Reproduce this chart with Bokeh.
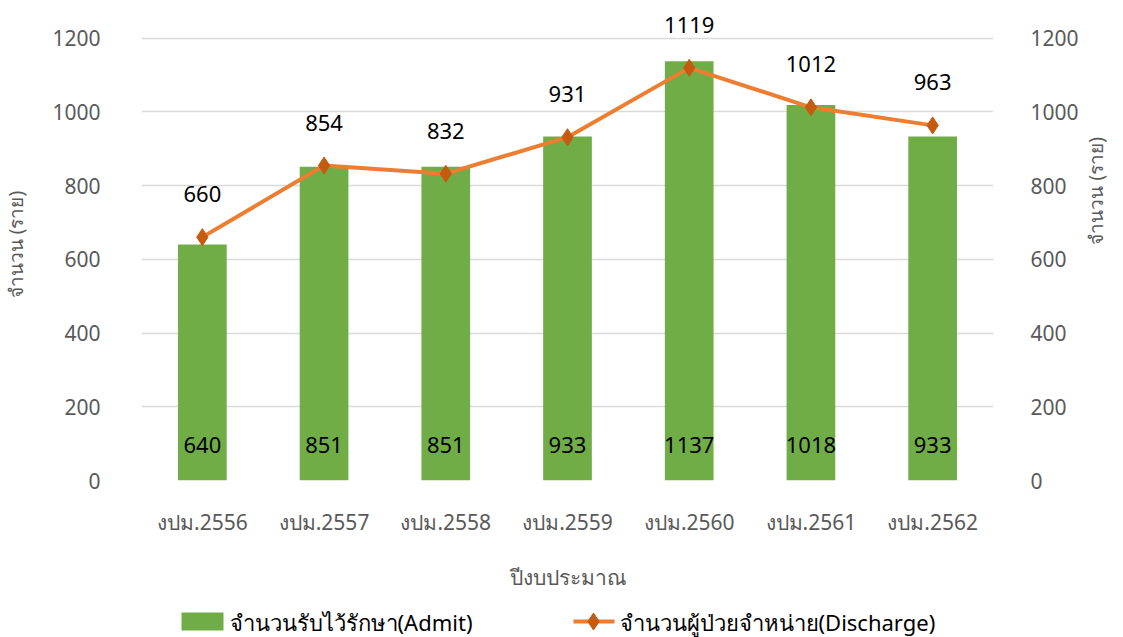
import math
from bokeh.plotting import figure
from bokeh.layouts import column
from bokeh.models import ColumnDataSource, Range1d, LinearAxis, FixedTicker
from bokeh.core.properties import value
from bokeh.embed import file_html
from bokeh.resources import INLINE

categories = ["งปม.2556", "งปม.2557", "งปม.2558", "งปม.2559", "งปม.2560", "งปม.2561", "งปม.2562"]
admit = [640, 851, 851, 933, 1137, 1018, 933]
discharge = [660, 854, 832, 931, 1119, 1012, 963]
y_ticks = [0, 200, 400, 600, 800, 1000, 1200]
legend_labels = ["จำนวนรับไว้รักษา(Admit)", "จำนวนผู้ป่วยจำหน่าย(Discharge)"]

FONT = "Noto Sans"
GREEN = "#70AD47"
ORANGE = "#ED7D31"
DARK_ORANGE = "#C55A11"
GRAY_TXT = "#595959"

LEFT, RIGHT, FW = 135, 118, 852
TOTAL_W = LEFT + FW + RIGHT

src = ColumnDataSource(dict(
    x=categories, admit=admit, discharge=discharge,
    admit_txt=[str(v) for v in admit], dis_txt=[str(v) for v in discharge],
    base=[95] * len(categories),
))

p = figure(frame_width=FW, frame_height=472, x_range=categories, y_range=Range1d(0, 1280),
           output_backend="svg", toolbar_location=None,
           min_border_left=LEFT, min_border_right=RIGHT, min_border_top=8, min_border_bottom=112)
p.extra_y_ranges = {"r": Range1d(0, 1280)}
p.outline_line_color = None
p.background_fill_color = "white"

bars = p.vbar(x="x", top="admit", width=0.4, source=src, fill_color=GREEN, line_color=None)
ln = p.line(x="x", y="discharge", source=src, line_color=ORANGE, line_width=4)
sc = p.scatter(x="x", y="discharge", source=src, marker="diamond", size=17,
               fill_color=DARK_ORANGE, line_color=DARK_ORANGE)

p.text(x="x", y="base", text="admit_txt", source=src, text_align="center", text_baseline="middle",
       text_font=value(FONT), text_font_size="22px", text_color="black")
p.text(x="x", y="discharge", text="dis_txt", source=src, text_align="center", text_baseline="middle",
       y_offset=-43, text_font=value(FONT), text_font_size="22px", text_color="black")

p.xgrid.grid_line_color = None
p.ygrid.grid_line_color = "#D9D9D9"
p.ygrid.grid_line_width = 1.3
p.yaxis.ticker = FixedTicker(ticks=y_ticks)

def style_y(ax, standoff, title_standoff):
    ax.axis_line_color = None
    ax.major_tick_line_color = None
    ax.minor_tick_line_color = None
    ax.major_label_text_font = FONT
    ax.major_label_text_font_size = "21px"
    ax.major_label_text_color = GRAY_TXT
    ax.major_label_standoff = standoff
    ax.axis_label_text_font = FONT
    ax.axis_label_text_font_size = "19px"
    ax.axis_label_text_font_style = "normal"
    ax.axis_label_text_color = GRAY_TXT
    ax.axis_label_standoff = title_standoff

style_y(p.yaxis[0], 35, 20)
p.yaxis[0].axis_label = "จำนวน (ราย)"

rax = LinearAxis(y_range_name="r", ticker=FixedTicker(ticks=y_ticks), axis_label="จำนวน (ราย)")
style_y(rax, 31, 14)
try:
    rax.axis_label_orientation = math.pi / 2
except Exception:
    pass
p.add_layout(rax, "right")

xa = p.xaxis[0]
xa.axis_line_color = None
xa.major_tick_line_color = None
xa.minor_tick_line_color = None
xa.major_label_text_font = FONT
xa.major_label_text_font_size = "21px"
xa.major_label_text_color = GRAY_TXT
xa.major_label_standoff = 21
xa.axis_label = "ปีงบประมาณ"
xa.axis_label_text_font = FONT
xa.axis_label_text_font_size = "21px"
xa.axis_label_text_font_style = "normal"
xa.axis_label_text_color = GRAY_TXT
xa.axis_label_standoff = 24

# legend strip (pixel coordinates), drawn as its own small figure under the chart
LH = 45
lg = figure(frame_width=TOTAL_W, frame_height=LH, x_range=Range1d(0, TOTAL_W), y_range=Range1d(0, LH),
            output_backend="svg", toolbar_location=None, x_axis_location=None, y_axis_location=None,
            min_border_left=0, min_border_right=0, min_border_top=0, min_border_bottom=0)
lg.outline_line_color = None
lg.xgrid.grid_line_color = None
lg.ygrid.grid_line_color = None
ly = 17
lg.rect(x=[61], y=[ly], width=42, height=18, fill_color=GREEN, line_color=None)
lg.text(x=[88], y=[ly], text=[legend_labels[0]], text_align="left", text_baseline="middle",
        text_font=value(FONT), text_font_size="22px", text_color="black")
lg.line(x=[432, 473], y=[ly, ly], line_color=ORANGE, line_width=4)
lg.scatter(x=[452], y=[ly], marker="diamond", size=17, fill_color=DARK_ORANGE, line_color=DARK_ORANGE)
lg.text(x=[478], y=[ly], text=[legend_labels[1]], text_align="left", text_baseline="middle",
        text_font=value(FONT), text_font_size="22px", text_color="black")

layout = column(p, lg, spacing=0)
open("out.html", "w").write(file_html(layout, INLINE))
